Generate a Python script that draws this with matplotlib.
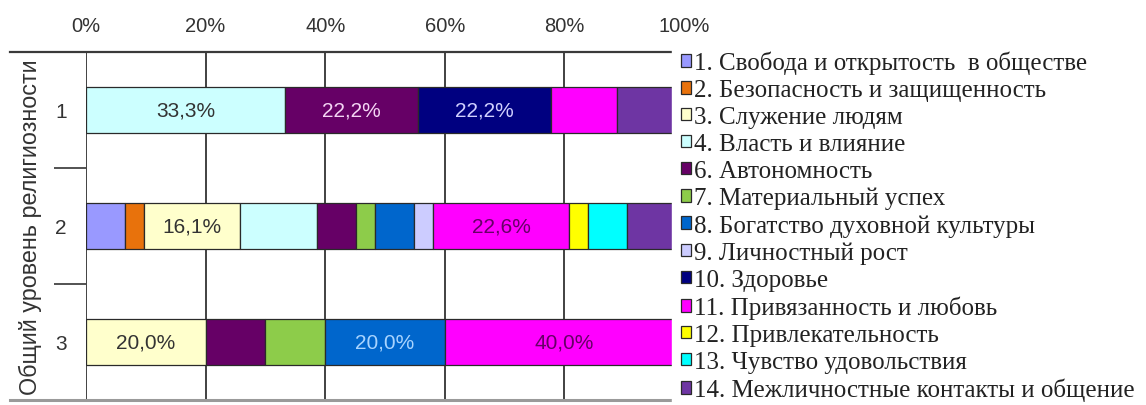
import matplotlib
matplotlib.use("Agg")
import matplotlib.pyplot as plt
from matplotlib.lines import Line2D
from matplotlib.ticker import PercentFormatter

# ---- data: share of each value category per religiosity level (%) ---------
levels = ["1", "2", "3"]
categories = ["1. Свобода и открытость  в обществе",
              "2. Безопасность и защищенность",
              "3. Служение людям",
              "4. Власть и влияние",
              "6. Автономность",
              "7. Материальный успех",
              "8. Богатство духовной культуры",
              "9. Личностный рост",
              "10. Здоровье",
              "11. Привязанность и любовь",
              "12. Привлекательность",
              "13. Чувство удовольствия",
              "14. Межличностные контакты и общение"]
c01 = [0.0, 6.5, 0.0]
c02 = [0.0, 3.2, 0.0]
c03 = [0.0, 16.1, 20.0]
c04 = [33.3, 12.9, 0.0]
c06 = [22.2, 6.5, 10.0]
c07 = [0.0, 3.2, 10.0]
c08 = [0.0, 6.5, 20.0]
c09 = [0.0, 3.2, 0.0]
c10 = [22.2, 0.0, 0.0]
c11 = [11.1, 22.6, 40.0]
c12 = [0.0, 3.2, 0.0]
c13 = [0.0, 6.5, 0.0]
c14 = [11.1, 9.7, 0.0]
series = [c01, c02, c03, c04, c06, c07, c08, c09, c10, c11, c12, c13, c14]

colors = ["#9999FF", "#E8720C", "#FFFFCC", "#CCFFFF", "#660066", "#8DCC4A",
          "#0066CC", "#CCCCFF", "#000080", "#FF00FF", "#FFFF00", "#00FFFF",
          "#6E35A3"]
label_colors = ["#333333", "#333333", "#333333", "#333333", "#F4D4F4", "#333333",
                "#A8D4FF", "#333333", "#D0D0FF", "#660066", "#333333", "#333333",
                "#F0E0F8"]
show_min = 15.0        # only segments this wide get a value label

SANS = "Liberation Sans"
SERIF = "Liberation Serif"

fig = plt.figure(figsize=(11.46, 4.06), dpi=100)
W, H = 1146, 406
ax = fig.add_axes([86 / W, 5 / H, (684 - 86) / W, (401 - 53) / H])

ypos = list(range(len(levels)))
left = [0.0] * len(levels)
for name, vals, col, lc in zip(categories, series, colors, label_colors):
    idx = [i for i, v in enumerate(vals) if v > 0]
    bars = ax.barh([ypos[i] for i in idx], [vals[i] for i in idx], height=0.4,
                   left=[left[i] for i in idx], color=col, edgecolor="#2a2a2a",
                   linewidth=0.9, label=name, zorder=3)
    labs = [f"{vals[i]:.1f}".replace(".", ",") + "%" if vals[i] >= show_min else ""
            for i in idx]
    ax.bar_label(bars, labels=labs, label_type="center", color=lc,
                 fontsize=15, family=SANS)
    for i in range(len(levels)):
        left[i] += vals[i]

ax.set_xlim(0, 100)
ax.set_ylim(2.5, -0.5)
ax.xaxis.tick_top()
ax.xaxis.set_major_formatter(PercentFormatter(decimals=0))
ax.set_xticks(range(0, 101, 20))
ax.tick_params(axis="x", length=0, pad=12, labelsize=14.5, labelcolor="#333333")
for t in ax.get_xticklabels():
    t.set_family(SANS)
ax.grid(True, axis="x", color="#333333", linewidth=1.3, zorder=1)

ax.set_yticks(ypos)
ax.set_yticklabels(levels, family=SANS, fontsize=15, color="#333333")
ax.set_yticks([0.5, 1.5], minor=True)
ax.tick_params(axis="y", which="major", length=0, pad=14)
ax.tick_params(axis="y", which="minor", length=23, width=1.3, color="#444444")
for s in ax.spines.values():
    s.set_visible(False)

ax.set_ylabel("Общий уровень религиозности", family=SANS, fontsize=16.8,
              color="#333333")
ax.yaxis.set_label_coords(-0.074, 0.5)

# top / bottom frame lines run out to the left edge of the picture
fig.add_artist(Line2D([10 / W, 684 / W], [1 - 53 / H, 1 - 53 / H],
                      color="#3a3a3a", linewidth=1.6))
fig.add_artist(Line2D([10 / W, 684 / W], [5 / H, 5 / H],
                      color="#9a9a9a", linewidth=2.2))

leg = fig.legend(loc="upper left", bbox_to_anchor=(672 / W, 1 - 43 / H),
                 prop={"family": SERIF, "size": 18}, frameon=True,
                 facecolor="white", edgecolor="white", framealpha=1,
                 fancybox=False, borderpad=0.35, borderaxespad=0,
                 handlelength=0.4, handleheight=0.4, handletextpad=0.12,
                 labelspacing=0.195)
leg.set_zorder(10)
for txt in leg.get_texts():
    txt.set_color("#222222")

fig.savefig("out.png", dpi=100, facecolor="white")
